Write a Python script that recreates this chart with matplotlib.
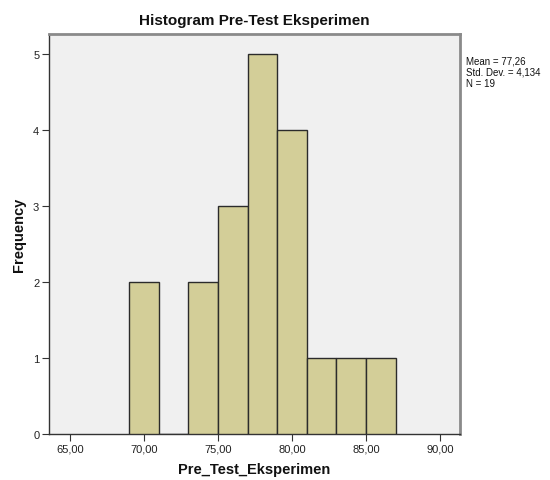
import matplotlib
matplotlib.use('Agg')
import matplotlib.pyplot as plt
import numpy as np

plt.rcParams['font.family'] = ['Liberation Sans', 'DejaVu Sans']

# histogram data read from the SPSS output
bin_left = [69, 71, 73, 75, 77, 79, 81, 83, 85]
counts = [2, 0, 2, 3, 5, 4, 1, 1, 1]
bin_width = 2
x_ticks = [65, 70, 75, 80, 85, 90]
y_ticks = [0, 1, 2, 3, 4, 5]
stats_lines = ['Mean = 77,26', 'Std. Dev. = 4,134', 'N = 19']

fig = plt.figure(figsize=(5.5, 4.81), dpi=100, facecolor='white')
ax = fig.add_axes([49/550, 46/481, 411/550, 400/481])
ax.set_facecolor('#F0F0F0')

ax.bar(bin_left, counts, width=bin_width, align='edge',
       color='#D3CE98', edgecolor='#2B2B2B', linewidth=1.0, zorder=3)

ax.set_xlim(63.58, 91.35)
ax.set_ylim(0, 5.26)
ax.set_xticks(x_ticks)
ax.set_xticklabels([f'{v:.2f}'.replace('.', ',') for v in x_ticks])
ax.set_yticks(y_ticks)
ax.tick_params(direction='out', length=5, width=0.8, color='#333333',
               labelsize=8, labelcolor='#222222', pad=2)

for side in ['left', 'bottom']:
    ax.spines[side].set_color('#333333')
    ax.spines[side].set_linewidth(1.0)
for side in ['top', 'right']:
    ax.spines[side].set_color('#8A8A8A')
    ax.spines[side].set_linewidth(2.0)

ax.set_title('Histogram Pre-Test Eksperimen', fontsize=11, fontweight='bold',
             color='#111111', pad=7)
ax.set_xlabel('Pre_Test_Eksperimen', fontsize=10.5, fontweight='bold',
              color='#111111', labelpad=6)
ax.set_ylabel('Frequency', fontsize=10.5, fontweight='bold',
              color='#111111', labelpad=5)

fig.text(466/550, 1 - 57/481, '\n'.join(stats_lines), fontsize=7,
         va='top', ha='left', color='#111111', linespacing=1.1)

fig.savefig('out.png', dpi=100, facecolor='white')
